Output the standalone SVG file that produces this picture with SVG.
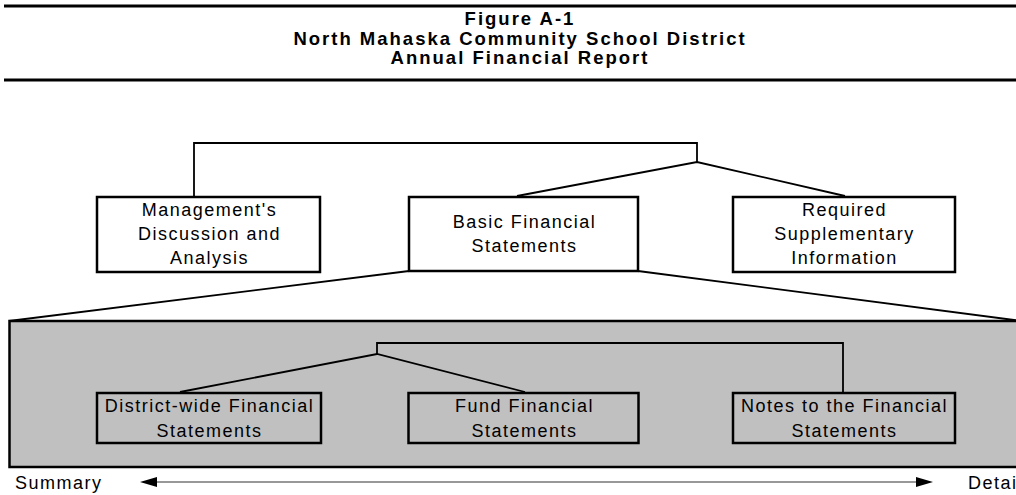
<svg xmlns="http://www.w3.org/2000/svg" width="1016" height="495" viewBox="0 0 1016 495">
<style>
.title{font-family:"Liberation Sans",Arial,sans-serif;font-weight:bold;font-size:18.5px;letter-spacing:2px;text-anchor:middle;fill:#000}
.lbl{font-family:"Liberation Sans",Arial,sans-serif;font-size:18px;letter-spacing:1.5px;text-anchor:middle;fill:#000}
.side{font-family:"Liberation Sans",Arial,sans-serif;font-size:18px;letter-spacing:1.5px;fill:#000}
.box{fill:#fff;stroke:#000;stroke-width:2.5}
.ibox{fill:none;stroke:#000;stroke-width:2.5}
.conn{fill:none;stroke:#000;stroke-width:1.8}
.rule{stroke:#000;stroke-width:2.8}
</style>
<defs>
<marker id="ah" viewBox="0 0 17 10" refX="17" refY="5" markerWidth="17" markerHeight="10" markerUnits="userSpaceOnUse" orient="auto">
<path d="M0,0 L17,5 L0,10 Z" fill="#000"/>
</marker>
</defs>
<g id="header">
<line class="rule" x1="4" y1="6" x2="1016" y2="6"/>
<text class="title" x="520" y="25">Figure A-1</text>
<text class="title" x="520" y="44.5">North Mahaska Community School District</text>
<text class="title" x="520" y="64">Annual Financial Report</text>
<line class="rule" x1="4" y1="80" x2="1016" y2="80"/>
</g>
<g id="detail-panel">
<rect x="9.5" y="321" width="1020" height="146" fill="#c0c0c0" stroke="#000" stroke-width="2.5"/>
</g>
<g id="connectors">
<polyline class="conn" points="194,196 194,143 697,143 697,162"/>
<polyline class="conn" points="517,196 697,162 845,196"/>
<line class="conn" x1="409" y1="271" x2="9" y2="321"/>
<line class="conn" x1="638" y1="271" x2="1022" y2="321"/>
<polyline class="conn" points="843,392 843,343 377,343 377,354"/>
<polyline class="conn" points="180,392 377,354 525,392"/>
<line x1="157" y1="482" x2="917" y2="482" stroke="#333" stroke-width="1.2"/>
<line x1="160" y1="482" x2="140" y2="482" stroke="none" marker-end="url(#ah)"/>
<line x1="913" y1="482" x2="933" y2="482" stroke="none" marker-end="url(#ah)"/>
</g>
<g id="mda">
<rect class="box" x="97" y="197" width="223" height="75"/>
<text class="lbl" x="209.5" y="216">Management's</text>
<text class="lbl" x="209.5" y="240">Discussion and</text>
<text class="lbl" x="209.5" y="264">Analysis</text>
</g>
<g id="bfs">
<rect class="box" x="409" y="197" width="229" height="74"/>
<text class="lbl" x="524.5" y="228">Basic Financial</text>
<text class="lbl" x="524.5" y="252">Statements</text>
</g>
<g id="rsi">
<rect class="box" x="733" y="197" width="222" height="75"/>
<text class="lbl" x="844.5" y="216">Required</text>
<text class="lbl" x="844.5" y="240">Supplementary</text>
<text class="lbl" x="844.5" y="264">Information</text>
</g>
<g id="district-wide">
<rect class="ibox" x="97" y="393" width="224" height="50"/>
<text class="lbl" x="209.5" y="412">District-wide Financial</text>
<text class="lbl" x="209.5" y="437">Statements</text>
</g>
<g id="fund">
<rect class="ibox" x="408.5" y="393" width="230" height="50"/>
<text class="lbl" x="524.5" y="412">Fund Financial</text>
<text class="lbl" x="524.5" y="437">Statements</text>
</g>
<g id="notes">
<rect class="ibox" x="733" y="393" width="222" height="50"/>
<text class="lbl" x="844.5" y="412">Notes to the Financial</text>
<text class="lbl" x="844.5" y="437">Statements</text>
</g>
<g id="scale">
<text class="side" x="15" y="489">Summary</text>
<text class="side" x="968" y="489">Detai</text>
</g>
</svg>
